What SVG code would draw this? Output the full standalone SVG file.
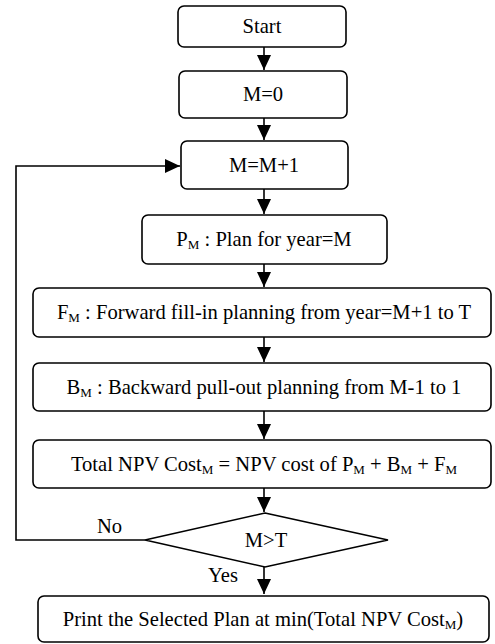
<svg xmlns="http://www.w3.org/2000/svg" width="495" height="644" viewBox="0 0 495 644">
<style>
.box{fill:#fff;stroke:#000;stroke-width:1.6}
text{font-family:"Liberation Serif","Times New Roman",serif;font-size:20.6px;fill:#000}
.t{text-anchor:middle}
.s{font-size:13px}
.c{fill:none;stroke:#000;stroke-width:1.6}
</style>
<defs>
<marker id="ah2" markerWidth="16" markerHeight="14" refX="15" refY="7" orient="auto" markerUnits="userSpaceOnUse">
<path d="M0,0 L15,7 L0,14 Z" fill="#000"/>
</marker>
</defs>
<g id="connectors">
<line class="c" x1="264" y1="47" x2="264" y2="70" marker-end="url(#ah2)"/>
<line class="c" x1="264" y1="118" x2="264" y2="140" marker-end="url(#ah2)"/>
<line class="c" x1="264" y1="189" x2="264" y2="214" marker-end="url(#ah2)"/>
<line class="c" x1="264" y1="264" x2="264" y2="287" marker-end="url(#ah2)"/>
<line class="c" x1="264" y1="337" x2="264" y2="362" marker-end="url(#ah2)"/>
<line class="c" x1="264" y1="411" x2="264" y2="439" marker-end="url(#ah2)"/>
<line class="c" x1="264" y1="488" x2="264" y2="512" marker-end="url(#ah2)"/>
<polyline class="c" points="145,540 16,540 16,166 180,166" marker-end="url(#ah2)"/>
<line class="c" x1="264" y1="567" x2="264" y2="594" marker-end="url(#ah2)"/>
<text x="97" y="533">No</text>
<text x="208" y="582">Yes</text>
</g>
<g id="start">
<rect class="box" x="178" y="6" width="168" height="41" rx="6"/>
<text class="t" x="262" y="33">Start</text>
</g>
<g id="m0">
<rect class="box" x="179" y="71" width="168" height="47" rx="6"/>
<text class="t" x="263" y="101">M=0</text>
</g>
<g id="minc">
<rect class="box" x="181" y="141" width="167" height="48" rx="6"/>
<text class="t" x="264" y="172">M=M+1</text>
</g>
<g id="pm">
<rect class="box" x="142" y="215" width="245" height="49" rx="6"/>
<text class="t" x="264" y="246">P<tspan class="s" dy="3">M</tspan><tspan dy="-3"> : Plan for year=M</tspan></text>
</g>
<g id="fm">
<rect class="box" x="33" y="288" width="458" height="49" rx="6"/>
<text class="t" x="264" y="319">F<tspan class="s" dy="3">M</tspan><tspan dy="-3"> : Forward fill-in planning from year=M+1 to T</tspan></text>
</g>
<g id="bm">
<rect class="box" x="33" y="363" width="458" height="48" rx="6"/>
<text class="t" x="264" y="394">B<tspan class="s" dy="3">M</tspan><tspan dy="-3"> : Backward pull-out planning from M-1 to 1</tspan></text>
</g>
<g id="total">
<rect class="box" x="33" y="440" width="458" height="48" rx="6"/>
<text class="t" x="264" y="471">Total NPV Cost<tspan class="s" dy="3">M</tspan><tspan dy="-3"> = NPV cost of P</tspan><tspan class="s" dy="3">M</tspan><tspan dy="-3"> + B</tspan><tspan class="s" dy="3">M</tspan><tspan dy="-3"> + F</tspan><tspan class="s" dy="3">M</tspan></text>
</g>
<g id="decision">
<polygon class="box" points="265,513 388,540 265,567 145,540"/>
<text class="t" x="266" y="547">M&gt;T</text>
</g>
<g id="print">
<rect class="box" x="38" y="596" width="451" height="46" rx="6"/>
<text class="t" x="263" y="626">Print the Selected Plan at min(Total NPV Cost<tspan class="s" dy="3">M</tspan><tspan dy="-3">)</tspan></text>
</g>
</svg>
